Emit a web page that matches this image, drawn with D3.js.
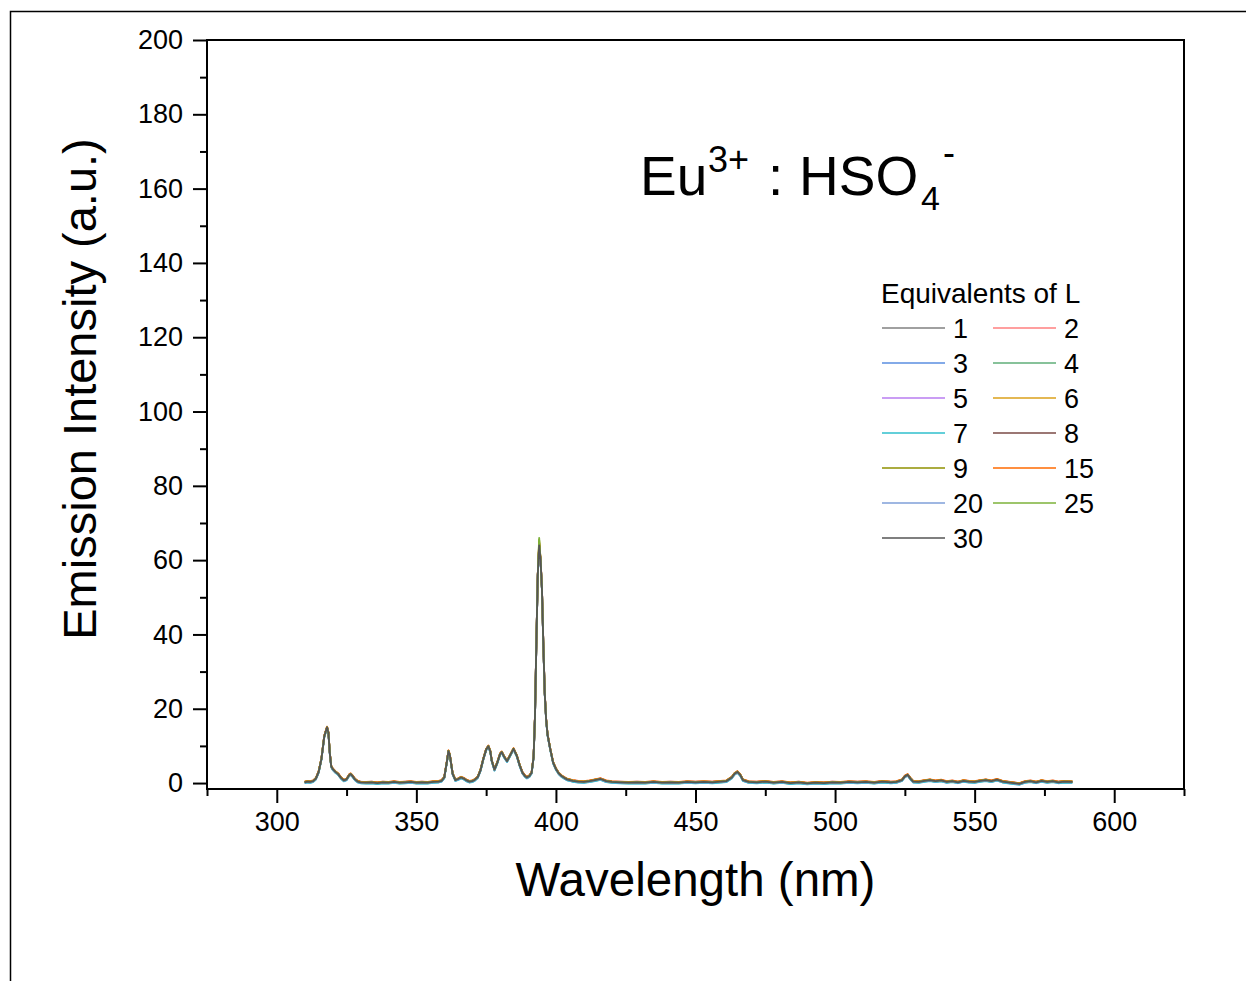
<!DOCTYPE html>
<html>
<head>
<meta charset="utf-8">
<script src="https://cdn.jsdelivr.net/npm/d3@7"></script>
<style>
  body { margin: 0; background: #fff; }
  svg { display: block; font-family: Arial, "Liberation Sans", sans-serif; }
</style>
</head>
<body>
<div id="chart"></div>
<script>
// --- Data ---

// wavelength grid (nm) shared by every titration spectrum
const wavelength = [
  310, 311, 312, 313, 314, 315, 316, 317, 318, 318.5, 319, 319.5, 320, 321, 322, 323, 324, 325, 326, 326.5,
  327, 328, 329, 330, 332, 334, 336, 338, 340, 342, 344, 346, 348, 350, 352, 354, 356, 358, 359, 360,
  361, 361.5, 362, 363, 364, 365, 366, 367, 368, 369, 370, 371, 372, 373, 374, 375, 375.8, 376.5, 377, 378,
  379, 380, 380.6, 381.5, 382.5, 383.5, 384.8, 386, 387, 388, 389, 389.6, 390.5, 391.3, 392, 392.5, 393, 393.5, 394, 394.5,
  395, 395.5, 396, 396.5, 397, 398, 399, 400, 401, 402, 403, 404, 406, 408, 410, 412, 414, 416, 418, 420,
  423, 426, 429, 432, 435, 438, 441, 444, 447, 450, 453, 456, 459, 461, 463, 464, 465, 466, 467, 469,
  472, 475, 478, 481, 484, 487, 490, 493, 496, 499, 502, 505, 508, 511, 514, 517, 520, 522, 524, 525,
  526, 527, 528, 530, 532, 534, 536, 538, 540, 542, 544, 546, 548, 550, 552, 554, 556, 558, 560, 562,
  564, 566, 568, 570, 572, 574, 576, 578, 580, 582, 585
];

// common spectrum shape (a.u.)
const baseIntensity = [
  0.2, 0.4, 0.3, 0.5, 1.2, 3.0, 6.5, 12.5, 15.0, 13.5, 8.0, 4.5, 3.8, 3.0, 2.4, 1.4, 0.7, 1.0, 2.2, 2.4,
  2.0, 1.0, 0.4, 0.2, 0.1, 0.2, 0.0, 0.2, 0.1, 0.3, 0.1, 0.2, 0.3, 0.1, 0.2, 0.1, 0.3, 0.4, 0.6, 1.5,
  6.0, 8.6, 7.5, 2.5, 0.8, 1.1, 1.5, 1.2, 0.7, 0.4, 0.5, 0.9, 1.6, 3.5, 6.5, 9.0, 9.9, 8.5, 6.0, 3.6,
  5.5, 7.8, 8.3, 7.0, 5.9, 7.3, 9.2, 7.3, 4.8, 2.8, 1.8, 1.5, 1.9, 2.8, 7.0, 18.0, 38.0, 56.0, 64.5, 60.0,
  52.0, 37.0, 24.0, 17.0, 13.0, 9.0, 5.5, 3.8, 2.6, 1.9, 1.4, 1.0, 0.6, 0.4, 0.3, 0.5, 0.8, 1.1, 0.5, 0.3,
  0.2, 0.1, 0.2, 0.1, 0.3, 0.1, 0.2, 0.1, 0.3, 0.2, 0.3, 0.2, 0.4, 0.5, 1.5, 2.5, 3.0, 2.2, 0.8, 0.3,
  0.2, 0.4, 0.1, 0.3, 0.0, 0.2, -0.1, 0.1, 0.0, 0.2, 0.1, 0.3, 0.2, 0.3, 0.1, 0.4, 0.2, 0.3, 0.8, 1.8,
  2.2, 1.2, 0.4, 0.3, 0.6, 0.8, 0.5, 0.7, 0.3, 0.5, 0.2, 0.6, 0.4, 0.3, 0.6, 0.8, 0.5, 0.9, 0.4, 0.2,
  0.0, -0.2, 0.3, 0.5, 0.2, 0.6, 0.3, 0.5, 0.2, 0.4, 0.3
];

// legend entries (equivalents of L) and their colours
const seriesLabels = ["1", "2", "3", "4", "5", "6", "7", "8", "9", "15", "20", "25", "30"];
const seriesColors = [
  "#808080", "#ff7f7f", "#5a8ee0", "#5fae78", "#b87cf0", "#dba11a", "#2fbfcc",
  "#7a4a46", "#8f9000", "#ff6a00", "#7f9fd8", "#7cb23a", "#555555"
];
// small per-spectrum baseline shift and the top of the 394 nm band
const seriesOffset = [0.0, 0.1, -0.2, 0.05, 0.15, 0.1, -0.25, 0.0, 0.1, 0.2, -0.1, 0.05, 0.0];
const seriesPeak = [64.0, 64.5, 63.5, 64.0, 64.5, 65.0, 63.5, 64.0, 65.5, 64.5, 63.5, 66.0, 64.0];

// axis ticks
const xTicks = [300, 350, 400, 450, 500, 550, 600];
const yTicks = [0, 20, 40, 60, 80, 100, 120, 140, 160, 180, 200];

// --- Layout ---
const w = 1246;
const h = 981;
const plotLeft = 207, plotRight = 1184, plotTop = 40, plotBottom = 789;

const svg = d3.select("#chart")
  .append("svg")
  .attr("width", w)
  .attr("height", h);

// outer frame (only top and left edges visible in the crop)
svg.append("path")
  .attr("d", "M10.5,981 V11.5 H1246")
  .attr("fill", "none")
  .attr("stroke", "#000")
  .attr("stroke-width", 1.5);

const xScale = d3.scaleLinear().domain([275, 625]).range([plotLeft, plotRight]);
const yScale = d3.scaleLinear().domain([-1.6, 200]).range([plotBottom, plotTop]);

// --- Axes ---
const xAxis = d3.axisBottom(xScale)
  .tickValues(xTicks)
  .tickSize(14)
  .tickPadding(9)
  .tickFormat(d3.format("d"));

const xMinor = d3.axisBottom(xScale)
  .tickValues(d3.range(275, 626, 50))
  .tickSize(7)
  .tickFormat("");

const yAxis = d3.axisLeft(yScale)
  .tickValues(yTicks)
  .tickSize(14)
  .tickPadding(10)
  .tickFormat(d3.format("d"));

const yMinor = d3.axisLeft(yScale)
  .tickValues(d3.range(10, 200, 20))
  .tickSize(7)
  .tickFormat("");

function styleAxis(g) {
  g.select(".domain").remove();
  g.selectAll(".tick line").attr("stroke", "#000").attr("stroke-width", 2);
  g.selectAll(".tick text")
    .attr("font-size", "27px")
    .attr("fill", "#000")
    .attr("font-family", "Arial, 'Liberation Sans', sans-serif");
}

svg.append("g").attr("transform", "translate(0," + plotBottom + ")").call(xMinor).call(styleAxis);
svg.append("g").attr("transform", "translate(0," + plotBottom + ")").call(xAxis).call(styleAxis);
svg.append("g").attr("transform", "translate(" + plotLeft + ",0)").call(yMinor).call(styleAxis);
svg.append("g").attr("transform", "translate(" + plotLeft + ",0)").call(yAxis).call(styleAxis);

// --- Spectra ---
svg.append("clipPath").attr("id", "plotclip")
  .append("rect")
  .attr("x", plotLeft).attr("y", plotTop)
  .attr("width", plotRight - plotLeft).attr("height", plotBottom - plotTop);

const line = d3.line()
  .x(function (d) { return xScale(d[0]); })
  .y(function (d) { return yScale(d[1]); });

const spectra = seriesLabels.map(function (lab, s) {
  return wavelength.map(function (wl, i) {
    const v = wl === 394 ? seriesPeak[s] : baseIntensity[i] + seriesOffset[s];
    return [wl, v];
  });
});

svg.append("g")
  .attr("clip-path", "url(#plotclip)")
  .selectAll("path")
  .data(spectra)
  .enter()
  .append("path")
  .attr("d", line)
  .attr("fill", "none")
  .attr("stroke", function (d, i) { return seriesColors[i]; })
  .attr("stroke-width", 1.8)
  .attr("stroke-linejoin", "round");

// plot box
svg.append("rect")
  .attr("x", plotLeft).attr("y", plotTop)
  .attr("width", plotRight - plotLeft).attr("height", plotBottom - plotTop)
  .attr("fill", "none")
  .attr("stroke", "#000")
  .attr("stroke-width", 2);

// --- Axis titles ---
svg.append("text")
  .attr("x", (plotLeft + plotRight) / 2)
  .attr("y", 896)
  .attr("text-anchor", "middle")
  .attr("font-size", "47.5px")
  .text("Wavelength (nm)");

svg.append("text")
  .attr("transform", "translate(96," + 389 + ") rotate(-90)")
  .attr("text-anchor", "middle")
  .attr("font-size", "47px")
  .text("Emission Intensity (a.u.)");

// --- Title: Eu3+ : HSO4- ---
const title = svg.append("text")
  .attr("y", 195)
  .attr("font-size", "55px");
title.append("tspan").attr("x", 640).text("Eu");
title.append("tspan").attr("x", 708).attr("font-size", "36px").attr("dy", -23).text("3+");
title.append("tspan").attr("x", 768).attr("dy", 23).text(":");
title.append("tspan").attr("x", 799).text("HSO");
title.append("tspan").attr("x", 921).attr("font-size", "34px").attr("dy", 15).text("4");
title.append("tspan").attr("x", 943).attr("font-size", "36px").attr("dy", -45).text("-");

// --- Legend ---
const legX = 882, legY = 328, rowH = 35;
svg.append("text")
  .attr("x", legX - 1)
  .attr("y", 303)
  .attr("font-size", "28px")
  .text("Equivalents of L");

const legend = svg.append("g")
  .selectAll("g")
  .data(seriesLabels)
  .enter()
  .append("g")
  .attr("transform", function (d, i) {
    const col = i % 2;
    const row = Math.floor(i / 2);
    return "translate(" + (legX + col * 111) + "," + (legY + row * rowH) + ")";
  });

legend.append("line")
  .attr("x1", 0).attr("x2", 63)
  .attr("y1", 0).attr("y2", 0)
  .attr("stroke", function (d, i) { return seriesColors[i]; })
  .attr("stroke-width", 1.5);

legend.append("text")
  .attr("x", 71)
  .attr("y", 9.5)
  .attr("font-size", "27px")
  .text(function (d) { return d; });
</script>
</body>
</html>
